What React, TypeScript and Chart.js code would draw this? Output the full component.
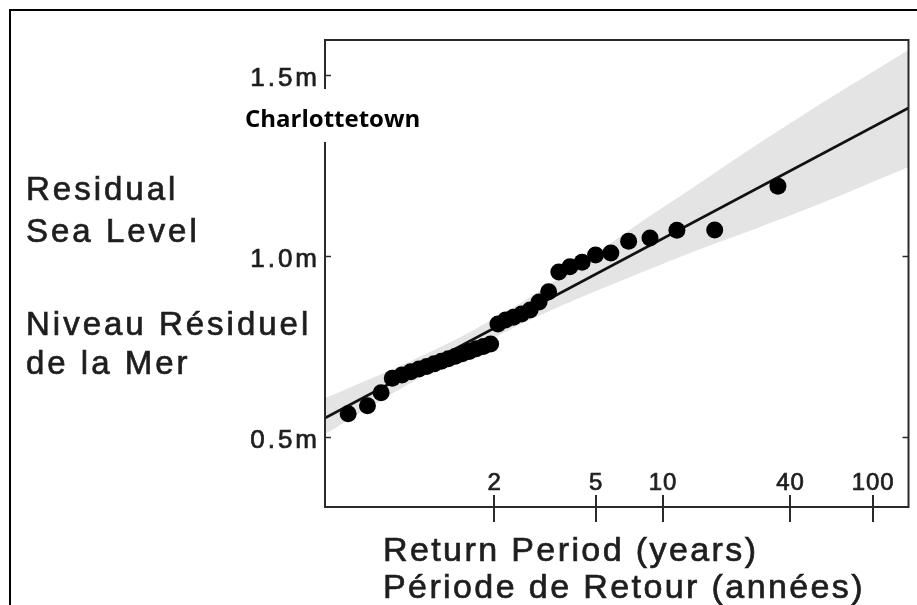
import React, { useEffect, useRef } from 'react';
import { Chart, registerables } from 'chart.js';

Chart.register(...registerables);

// Observations: Gumbel reduced variate (x) and residual sea level in metres (y)
const POINT_X = [-1.268, -1.052, -0.899, -0.774, -0.666, -0.567, -0.476, -0.389, -0.306, -0.225, -0.146, -0.068, 0.010, 0.087, 0.166, 0.245, 0.326, 0.408, 0.493, 0.581, 0.672, 0.767, 0.868, 0.975, 1.089, 1.213, 1.349, 1.500, 1.671, 1.870, 2.109, 2.410, 2.833, 3.540];
const POINT_Y = [0.564, 0.586, 0.622, 0.662, 0.671, 0.680, 0.688, 0.695, 0.702, 0.709, 0.716, 0.723, 0.730, 0.736, 0.744, 0.750, 0.757, 0.812, 0.823, 0.831, 0.840, 0.851, 0.873, 0.901, 0.956, 0.970, 0.983, 1.003, 1.008, 1.041, 1.050, 1.071, 1.072, 1.193];

// Fitted line
const FIT_X = [-1.527, 5.001];
const FIT_Y = [0.5525, 1.409];

// Confidence band
const BAND_X = [-1.527, -0.69, -0.02, 0.64, 1.31, 1.98, 2.65, 3.32, 3.99, 5.001];
const BAND_UPPER = [0.607, 0.696, 0.775, 0.867, 0.974, 1.089, 1.199, 1.310, 1.416, 1.569];
const BAND_LOWER = [0.508, 0.632, 0.725, 0.809, 0.883, 0.951, 1.017, 1.078, 1.142, 1.246];

// Axis ticks
const RETURN_PERIOD_LABELS = ['2', '5', '10', '40', '100'];
const RETURN_PERIOD_POS = [0.367, 1.5, 2.25, 3.676, 4.6];
const LEVEL_TICKS = [0.5, 1.0, 1.5];
const LEVEL_LABELS = ['0.5m', '1.0m', '1.5m'];
const RIGHT_LEVEL_TICKS = [0.5, 1.0];

const X_MIN = -1.527;
const X_MAX = 5.001;
const Y_MIN = 0.3066;
const Y_MAX = 1.5967;

const Y_TITLE = ['Residual', 'Sea Level', 'Niveau Résiduel', 'de la Mer'];
const X_TITLE = ['Return Period (years)', 'Période de Retour (années)'];
const STATION = 'Charlottetown';

const SANS = "'Liberation Sans', Arial, Helvetica, sans-serif";
const TEXT = '#1e1e1e';

function heavyText(ctx: any, t: string, x: number, y: number) {
  ctx.fillText(t, x, y);
  ctx.strokeText(t, x, y);
}

const decorPlugin = {
  id: 'decor',
  afterDatasetsDraw(chart: any) {
    const { ctx, chartArea: a, scales } = chart;
    const xs = scales.x;
    const ys = scales.y;
    ctx.save();

    // plot frame
    ctx.strokeStyle = '#2a2a2a';
    ctx.lineWidth = 2;
    ctx.strokeRect(a.left, a.top, a.right - a.left, a.bottom - a.top);

    // y ticks (inward) left
    ctx.lineWidth = 1.5;
    LEVEL_TICKS.forEach((v) => {
      const py = Math.round(ys.getPixelForValue(v)) + 0.5;
      ctx.beginPath();
      ctx.moveTo(a.left, py);
      ctx.lineTo(a.left + 6, py);
      ctx.stroke();
    });
    RIGHT_LEVEL_TICKS.forEach((v) => {
      const py = Math.round(ys.getPixelForValue(v)) + 0.5;
      ctx.beginPath();
      ctx.moveTo(a.right - 6, py);
      ctx.lineTo(a.right, py);
      ctx.stroke();
    });

    // x ticks crossing the axis
    ctx.lineWidth = 2;
    RETURN_PERIOD_POS.forEach((v) => {
      const px = Math.round(xs.getPixelForValue(v));
      ctx.beginPath();
      ctx.moveTo(px, a.bottom - 12);
      ctx.lineTo(px, a.bottom + 15);
      ctx.stroke();
    });

    // text style
    ctx.fillStyle = TEXT;
    ctx.strokeStyle = TEXT;
    ctx.lineWidth = 0.7;
    ctx.textBaseline = 'alphabetic';

    // y tick labels
    ctx.font = `26px ${SANS}`;
    ctx.letterSpacing = '3px';
    ctx.textAlign = 'right';
    LEVEL_TICKS.forEach((v, i) => {
      const py = ys.getPixelForValue(v);
      heavyText(ctx, LEVEL_LABELS[i], a.left - 5, py + 11);
    });

    // x tick labels (inside plot)
    ctx.font = `24px ${SANS}`;
    ctx.letterSpacing = '1px';
    ctx.textAlign = 'center';
    RETURN_PERIOD_POS.forEach((v, i) => {
      const px = xs.getPixelForValue(v);
      heavyText(ctx, RETURN_PERIOD_LABELS[i], px + 0.5, a.bottom - 17);
    });

    // y title (horizontal, left)
    ctx.font = `33px ${SANS}`;
    ctx.letterSpacing = '3px';
    ctx.textAlign = 'left';
    const yBase = [200, 242, 335, 374];
    Y_TITLE.forEach((t, i) => heavyText(ctx, t, 26, yBase[i]));

    // x title
    ctx.font = `34px ${SANS}`;
    ctx.letterSpacing = '2.4px';
    heavyText(ctx, X_TITLE[0], 383, 561);
    heavyText(ctx, X_TITLE[1], 383, 598);

    // station label with white box
    ctx.fillStyle = '#ffffff';
    ctx.fillRect(238, 89, 192, 53);
    ctx.fillStyle = '#000000';
    ctx.font = `bold 24px 'Open Sans', ${SANS}`;
    ctx.letterSpacing = '0px';
    ctx.fillText(STATION, 245, 127);

    // outer border
    ctx.strokeStyle = '#000';
    ctx.lineWidth = 2;
    ctx.beginPath();
    ctx.moveTo(10, 605);
    ctx.lineTo(10, 10);
    ctx.lineTo(917, 10);
    ctx.stroke();

    ctx.restore();
  },
};

export default function App() {
  const ref = useRef<HTMLCanvasElement>(null);

  useEffect(() => {
    if (!ref.current) return;
    const pts = POINT_X.map((x, i) => ({ x, y: POINT_Y[i] }));
    const fit = FIT_X.map((x, i) => ({ x, y: FIT_Y[i] }));
    const up = BAND_X.map((x, i) => ({ x, y: BAND_UPPER[i] }));
    const lo = BAND_X.map((x, i) => ({ x, y: BAND_LOWER[i] }));

    const chart = new Chart(ref.current, {
      type: 'line',
      data: {
        datasets: [
          {
            label: 'Observed',
            data: pts,
            showLine: false,
            pointRadius: 8.5,
            pointBackgroundColor: '#000',
            pointBorderWidth: 0,
            order: 0,
          },
          {
            label: 'Fit',
            data: fit,
            borderColor: '#111',
            borderWidth: 2.6,
            pointRadius: 0,
            fill: false,
            clip: 0,
            order: 1,
          },
          {
            label: 'Upper',
            data: up,
            borderWidth: 0,
            borderColor: 'rgba(0,0,0,0)',
            backgroundColor: '#e4e4e4',
            pointRadius: 0,
            fill: '+1',
            tension: 0.2,
            clip: 0,
            order: 2,
          },
          {
            label: 'Lower',
            data: lo,
            borderWidth: 0,
            borderColor: 'rgba(0,0,0,0)',
            pointRadius: 0,
            fill: false,
            tension: 0.2,
            clip: 0,
            order: 3,
          },
        ],
      } as any,
      options: {
        animation: false,
        responsive: false,
        events: [],
        layout: { padding: { left: 325, top: 40, right: 6, bottom: 98 } },
        plugins: {
          legend: { display: false },
          tooltip: { enabled: false },
        },
        scales: {
          x: { type: 'linear', min: X_MIN, max: X_MAX, display: false },
          y: { type: 'linear', min: Y_MIN, max: Y_MAX, display: false },
        },
      },
      plugins: [decorPlugin],
    });
    return () => chart.destroy();
  }, []);

  return (
    <div style={{ position: 'absolute', left: 0, top: 0, width: 917, height: 605, background: '#fff' }}>
      <canvas ref={ref} width={917} height={605} style={{ width: 917, height: 605, display: 'block' }} />
    </div>
  );
}
